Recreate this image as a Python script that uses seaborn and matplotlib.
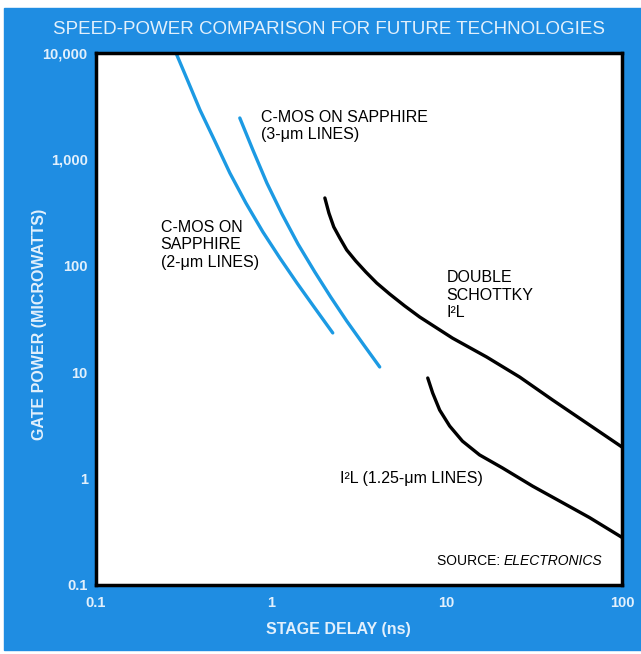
import numpy as np
import pandas as pd
import matplotlib
matplotlib.use("Agg")
import matplotlib.pyplot as plt
import seaborn as sns

# Stage delay (ns) vs gate power (microwatts) for each technology
cmos2_delay = [0.286, 0.334, 0.392, 0.476, 0.580, 0.716, 0.895, 1.12, 1.40, 1.77, 2.24]
cmos2_power = [10000, 5460, 2910, 1490, 745, 389, 208, 118, 68.9, 40.1, 23.4]

cmos3_delay = [0.661, 0.785, 0.943, 1.15, 1.42, 1.77, 2.18, 2.69, 3.37, 4.15]
cmos3_power = [2450, 1225, 600, 307, 160, 87.5, 50.9, 30.3, 18.0, 11.2]

dsi2l_delay = [2.02, 2.13, 2.27, 2.46, 2.69, 3.03, 3.46, 3.99, 4.73, 5.77, 7.02,
               10.8, 16.9, 26.1, 40.2, 62.8, 100]
dsi2l_power = [434, 313, 232, 182, 141, 111, 87.4, 68.9, 54.3, 41.9, 33.0,
               20.9, 13.9, 9.0, 5.48, 3.33, 1.98]

i2l_delay = [7.80, 8.32, 9.12, 10.4, 12.3, 15.4, 20.8, 30.9, 44.1, 65.3, 100]
i2l_power = [8.82, 6.38, 4.41, 3.12, 2.25, 1.67, 1.26, 0.85, 0.615, 0.43, 0.28]

y_ticks = [0.1, 1, 10, 100, 1000, 10000]
y_labels = ["0.1", "1", "10", "100", "1,000", "10,000"]
x_ticks = [0.1, 1, 10, 100]
x_labels = ["0.1", "1", "10", "100"]

BG = "#1f8de2"
LINE_BLUE = "#1c9ae3"
TXT = "#e2f0fc"

frames = []
for name, xs, ys in [("cmos2", cmos2_delay, cmos2_power),
                     ("cmos3", cmos3_delay, cmos3_power),
                     ("dsi2l", dsi2l_delay, dsi2l_power),
                     ("i2l", i2l_delay, i2l_power)]:
    frames.append(pd.DataFrame({"tech": name, "delay": xs, "power": ys}))
df = pd.concat(frames, ignore_index=True)

sns.set_theme(style="white")
plt.rcParams["font.family"] = ["Liberation Sans", "DejaVu Sans"]

fig = plt.figure(figsize=(6.41, 6.54), dpi=100)
fig.patch.set_facecolor("white")
# blue panel behind the chart
fig.add_artist(plt.Rectangle((4 / 641, 4 / 654), 1, 1 - 12 / 654,
                             transform=fig.transFigure, color=BG, zorder=-10))

ax = fig.add_axes([96 / 641, 1 - 585 / 654, 526 / 641, 532 / 654])
ax.set_facecolor("white")

palette = {"cmos2": LINE_BLUE, "cmos3": LINE_BLUE, "dsi2l": "black", "i2l": "black"}
sns.lineplot(data=df, x="delay", y="power", hue="tech", units="tech",
             estimator=None, sort=False, palette=palette, legend=False,
             linewidth=2.4, ax=ax)
for ln in ax.get_lines():
    ln.set_solid_capstyle("round")
    ln.set_solid_joinstyle("round")

ax.set_xscale("log")
ax.set_yscale("log")
ax.set_xlim(0.1, 100)
ax.set_ylim(0.1, 10000)
ax.set_xticks(x_ticks)
ax.set_xticklabels(x_labels)
ax.set_yticks(y_ticks)
ax.set_yticklabels(y_labels)
ax.minorticks_off()
ax.tick_params(axis="both", direction="in", length=10, width=1.4, color="black",
               labelcolor=TXT, labelsize=10.5)
ax.tick_params(axis="x", pad=8)
ax.tick_params(axis="y", pad=6)
for lab in ax.get_xticklabels() + ax.get_yticklabels():
    lab.set_fontweight("bold")
for sp in ax.spines.values():
    sp.set_visible(True)
    sp.set_color("black")
    sp.set_linewidth(2.5)

ax.set_xlabel("STAGE DELAY (ns)", color=TXT, fontsize=11.5, fontweight="bold")
ax.xaxis.set_label_coords(0.46, -0.07)
ax.set_ylabel("GATE POWER (MICROWATTS)", color=TXT, fontsize=11.5, fontweight="bold")
ax.yaxis.set_label_coords(-0.094, 0.49)

fig.text(329 / 641, 1 - 30 / 654, "SPEED-POWER COMPARISON FOR FUTURE TECHNOLOGIES",
         ha="center", va="center", color=TXT, fontsize=13.5)

lab_kw = dict(color="black", fontsize=11.5, linespacing=1.2, va="top", ha="left")
ax.text(0.87, 2910, "C-MOS ON SAPPHIRE\n(3-μm LINES)", **lab_kw)
ax.text(0.234, 269, "C-MOS ON\nSAPPHIRE\n(2-μm LINES)", **lab_kw)
ax.text(10.0, 91, "DOUBLE\nSCHOTTKY\nI²L", **lab_kw)
ax.text(2.46, 1.0, "I²L (1.25-μm LINES)", color="black", fontsize=11.5,
        va="center", ha="left")

# source note: italic publication name, right-aligned inside the frame
src = ax.text(77.4, 0.168, "ELECTRONICS", color="black", fontsize=10,
              fontstyle="italic", va="center", ha="right")
fig.canvas.draw()
r = fig.canvas.get_renderer()
bb = src.get_window_extent(r)
tr = ax.transData
left = tr.inverted().transform((bb.x0, (bb.y0 + bb.y1) / 2))
ax.text(left[0], 0.168, "SOURCE: ", color="black", fontsize=10, va="center", ha="right")

fig.savefig("out.png", dpi=100, facecolor=fig.get_facecolor())
